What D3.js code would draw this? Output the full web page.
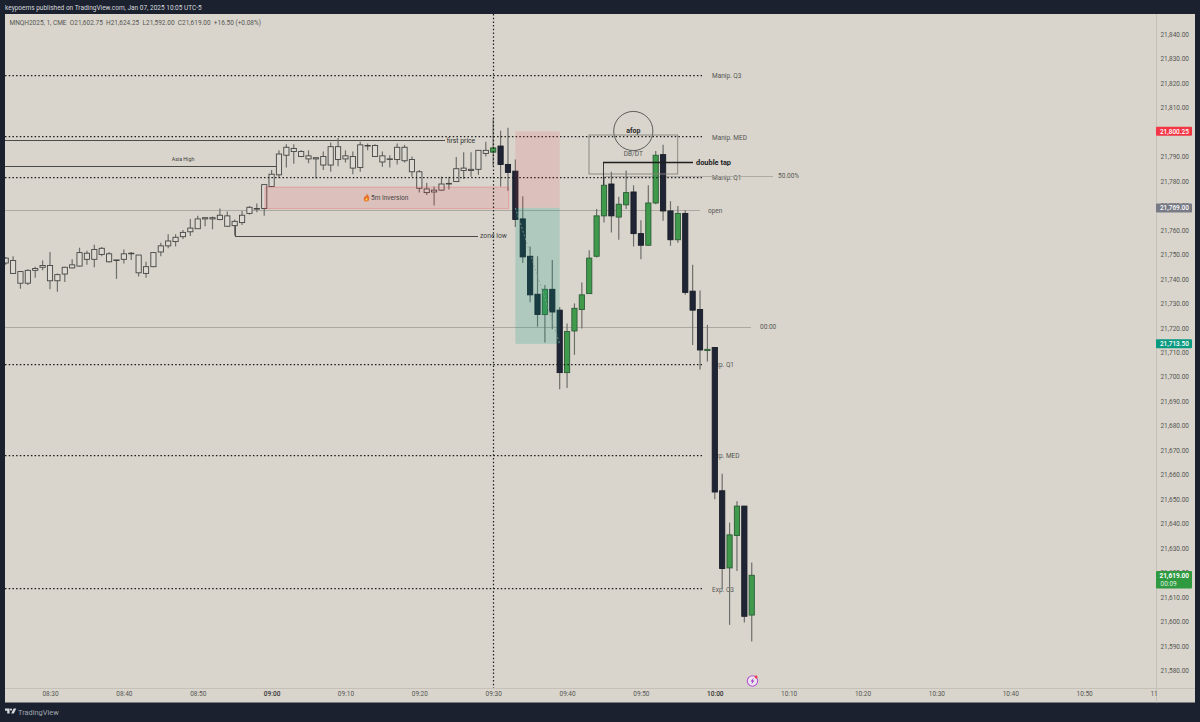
<!DOCTYPE html>
<html><head><meta charset="utf-8">
<script src="https://cdn.jsdelivr.net/npm/d3@7/dist/d3.min.js"></script>
<style>html,body{margin:0;padding:0;background:#1a202c}svg{display:block}text{font-family:Roboto,"Noto Sans",sans-serif}</style>
</head><body><div id="chart"></div>
<script>
const startMinute = 504; // 08:24
const highs = [21749,21749.25,21743.25,21744,21745,21747.5,21751,21742.25,21745,21748,21752.75,21751.5,21754,21753,21751,21747.75,21752,21751,21749.75,21747,21750.75,21754.75,21758.25,21758.25,21760,21764.5,21765.75,21765,21765.5,21768.75,21767.5,21764.25,21767.75,21769.75,21770.75,21778.5,21784.5,21792.5,21795,21795,21792.5,21792.5,21789.5,21792,21795.75,21797.5,21792.5,21792,21796,21795.25,21795,21792,21790.5,21795.25,21794.75,21790,21784.5,21779.25,21777.75,21781.75,21781.75,21789.75,21791.75,21791.75,21792.5,21796,21805.5,21800.5,21801.75,21788.75,21773.75,21753.25,21749.25,21737.5,21747.75,21728.5,21721.75,21730,21738.5,21751.75,21768.5,21781.5,21783.75,21773.5,21784.25,21778.25,21764,21778.25,21792.25,21794.75,21771.75,21769.75,21768,21745.75,21735.25,21721.25,21712,21660.5,21640.5,21649.25,21647.25,21624.25];
const lows = [21745.75,21742,21736,21737.5,21740.5,21743.5,21735.75,21734.75,21738.75,21744.25,21745,21745.75,21744.75,21749.25,21746.75,21740,21746.25,21747.75,21741,21740.5,21744.75,21749.25,21752.5,21753.25,21756.25,21757.5,21760.5,21761.5,21760.25,21764,21761.25,21757.75,21762,21766.25,21767.25,21765.75,21777.5,21781.25,21785.5,21787,21789.75,21787.25,21781,21784.5,21783.75,21786,21787.5,21782.75,21783.75,21792.5,21789.75,21785.75,21785.5,21786.75,21787.5,21781.75,21775.25,21774.25,21770,21776,21776.5,21779.75,21780.75,21781.75,21782.5,21790,21786,21777.75,21776,21761.25,21746.5,21730.5,21720.5,21714,21719.5,21695,21695.5,21709,21719.75,21734,21748.75,21763,21759,21756,21768.5,21753.25,21748,21753.5,21770.5,21763.75,21753.5,21754.75,21733.5,21713,21703,21706.25,21650,21613.25,21598.75,21620.75,21599.75,21592];
const opens = [21746.5,21742.25,21738.25,21738.25,21743.5,21744.75,21739.25,21739.25,21742,21744.5,21745.25,21748,21748,21750,21747,21747.5,21748,21750.25,21742.5,21742.25,21745,21751,21753.5,21755.25,21757.25,21759.25,21760.5,21764.5,21764.5,21764.25,21761.5,21761.75,21763,21766.75,21768.5,21768.75,21777.75,21782.5,21790.5,21792,21790,21789,21789,21786.5,21786.5,21788.75,21789,21785.25,21785.5,21794.25,21790,21787.75,21788.75,21788.75,21788.25,21783.75,21777,21775.25,21775.5,21776.25,21778.75,21779.75,21784.25,21784.25,21784.75,21791.25,21791.75,21794.25,21786.75,21784,21764.5,21749.25,21733.75,21725.5,21735.75,21727.25,21701.75,21718.75,21727.5,21734,21749.25,21765.75,21778.75,21765.25,21770.25,21775.5,21758.5,21753.75,21771,21790.75,21767.75,21756,21766.75,21735,21727.5,21710.75,21712,21653.5,21622,21635.25,21647.25,21602.75];
const closes = [21748.5,21747.5,21743,21743.5,21744.25,21745.5,21745.5,21741.75,21744.75,21745.75,21750.75,21750.5,21752,21752.5,21750.25,21747.75,21750.25,21750.5,21749.75,21745,21750.75,21753.5,21755.5,21757,21759,21760.75,21764.5,21765,21765,21766,21765.75,21763.5,21766,21769.25,21768.75,21778.5,21782.75,21791,21793.75,21793.25,21792,21790.25,21789.5,21790,21794,21794,21790.25,21790,21794.75,21794.5,21794.5,21790.25,21789,21793.75,21793.75,21788.75,21783.75,21776.75,21776.25,21778.75,21779,21785,21785.25,21784.75,21792.5,21792.5,21793.5,21786.75,21783.5,21764.25,21749,21733.5,21725.5,21735.75,21726.5,21701.75,21718.5,21728,21733.5,21748.5,21765.75,21778.25,21765.75,21770.5,21775.25,21758.5,21753.75,21771,21790.5,21767.75,21756,21766.75,21734.5,21727.25,21711,21711.25,21653,21621.75,21635.5,21647.25,21602.25,21619];
const priceTicks = [21840,21830,21820,21810,21800,21790,21780,21770,21760,21750,21740,21730,21720,21710,21700,21690,21680,21670,21660,21650,21640,21630,21620,21610,21600,21590,21580];
const timeTicks = ["08:30","08:40","08:50","09:00","09:10","09:20","09:30","09:40","09:50","10:00","10:10","10:20","10:30","10:40","10:50","11:00"];
const boldTimes = ["09:00","10:00"];
const dottedLevels = [21823.25,21798,21781.4,21705,21668,21613.5];
const levelLabels = ["Manip. Q3","Manip. MED","Manip. Q1","Exp. Q1","Exp. MED","Exp. Q3"];
const priceTags = [
  {p:21800.25,t:"21,800.25",c:"#f23645"},
  {p:21769,t:"21,769.00",c:"#787b86"},
  {p:21713.5,t:"21,713.50",c:"#089981"}
];

const W=1200,H=722,L=5,R=1195,T=14,B=702.5,axisX=1156,axisY=688;
const BG="#d9d5cd",FRAME="#1b212e",DARK="#1f2534",GREEN="#3f9a4b",WICK="#6e6e6a",TXT="#565652";
const mm=s=>{const [h,m]=s.split(":").map(Number);return h*60+m};
const x=d3.scaleLinear().domain([510,660]).range([50,1158]);
const y=d3.scaleLinear().domain([21840,21580]).range([34,670.8]);
const snap=p=>Math.round(y(p)-.5)+.5;

const svg=d3.select("#chart").append("svg").attr("width",W).attr("height",H);
svg.append("rect").attr("width",W).attr("height",H).attr("fill",FRAME);
svg.append("rect").attr("x",L).attr("y",T).attr("width",R-L).attr("height",B-T).attr("fill",BG);
const defs=svg.append("defs");
defs.append("clipPath").attr("id","plot").append("rect").attr("x",L).attr("y",T).attr("width",axisX-L).attr("height",axisY-T);
defs.append("clipPath").attr("id","taxis").append("rect").attr("x",L).attr("y",axisY).attr("width",axisX-L+1).attr("height",B-axisY);
svg.append("line").attr("x1",L).attr("x2",R).attr("y1",axisY+.5).attr("y2",axisY+.5).attr("stroke","#c5c1b9");
svg.append("line").attr("x1",axisX+.5).attr("x2",axisX+.5).attr("y1",T).attr("y2",B).attr("stroke","#c5c1b9");

const plot=svg.append("g").attr("clip-path","url(#plot)");
function line(g,x1,x2,y1,y2,c,w,dash){const l=g.append("line").attr("x1",x1).attr("x2",x2).attr("y1",y1).attr("y2",y2).attr("stroke",c).attr("stroke-width",w);if(dash)l.attr("stroke-dasharray",dash);return l}
function label(g,tx,ty,s,o={}){return g.append("text").attr("x",tx).attr("y",ty).attr("dy","0.35em").attr("text-anchor",o.a||"start").attr("font-size",o.s||6.5).attr("font-weight",o.w||400).attr("fill",o.c||TXT).text(s)}

// labels and thin levels under the candles
const under=plot.append("g");
dottedLevels.forEach((p,i)=>label(under,712,y(p)+.5,levelLabels[i]));
line(under,L,445,snap(21796.5),snap(21796.5),"#4a4a48",1);
label(under,461,y(21796.6),"first price",{a:"middle",c:"#2e2e2c",s:6.8});
line(under,L,279,snap(21785.7),snap(21785.7),"#4a4a48",1);
label(under,183,159,"Asia High",{a:"middle",c:"#3f3f3c",s:5.3});
line(under,235,478,snap(21757.5),snap(21757.5),"#4a4a48",1);
line(under,235.5,235.5,y(21763),y(21757.5),"#4a4a48",1);
label(under,480,y(21757.5),"zone low",{c:"#444",s:6.8});
line(under,L,700,snap(21767.75),snap(21767.75),"#a5a39c",.9);
label(under,708,211,"open");
line(under,L,751,snap(21720.35),snap(21720.35),"#a5a39c",.9);
label(under,760,326.5,"00:00");
line(under,603,773,snap(21782),snap(21782),"#a8a69f",.9);
label(under,778,176,"50.00%");

// candles
const candles=highs.map((h,i)=>({t:startMinute+i,h,l:lows[i],o:opens[i],c:closes[i],hollow:i<66}));
const cg=plot.append("g");
cg.selectAll("line.w").data(candles).join("line").attr("class","w")
  .attr("x1",d=>x(d.t)).attr("x2",d=>x(d.t)).attr("y1",d=>y(d.h)).attr("y2",d=>y(d.l))
  .attr("stroke",WICK).attr("stroke-width",1.2);
cg.selectAll("rect.b").data(candles).join("rect").attr("class","b")
  .attr("x",d=>x(d.t)-2.6).attr("width",5.2)
  .attr("y",d=>y(Math.max(d.o,d.c))).attr("height",d=>Math.max(.6,Math.abs(y(d.o)-y(d.c))))
  .attr("fill",d=>d.hollow?"#dcd9d2":(d.c>=d.o?GREEN:DARK))
  .attr("stroke",d=>d.hollow?"#454543":(d.c>=d.o?"#2c5c36":"#171b26")).attr("stroke-width",.9);

// drawings above the candles
const over=plot.append("g");
dottedLevels.forEach(p=>line(over,L,702,snap(p),snap(p),"#1c1c1c",1.25,"1.5 2.2"));
const zone=[21777.5,21768.7];
over.append("rect").attr("x",x(539.1)).attr("width",x(572.1)-x(539.1)).attr("y",y(zone[0])).attr("height",y(zone[1])-y(zone[0]))
  .attr("fill","rgba(242,54,69,.13)").attr("stroke","rgba(242,54,69,.28)").attr("stroke-width",1);
const fx=366.5,fy=197.5;
over.append("path").attr("transform",`translate(${fx},${fy})`).attr("d","M0,-4 C2.4,-2 3,0 2.8,1.6 C2.5,3.4 1.2,4 0,4 C-1.4,4 -2.8,3.2 -2.8,1.4 C-2.8,0 -1.8,-.8 -1.4,-1.8 C-.9,-1 -.6,-1 -.4,-1.2 C0,-2 .1,-3 0,-4Z").attr("fill","#e8702a");
over.append("path").attr("transform",`translate(${fx},${fy})`).attr("d","M0,0 C1,1 1.3,1.8 1.1,2.5 C.8,3.5 -.8,3.5 -1.1,2.5 C-1.3,1.6 -.4,1 0,0Z").attr("fill","#f6c544");
label(over,371,197.5,"5m Inversion",{c:"#444"});
// position tool
const bx0=x(573),bx1=x(579);
over.append("rect").attr("x",bx0).attr("width",bx1-bx0).attr("y",y(21800.25)).attr("height",y(21769)-y(21800.25)).attr("fill","rgba(242,54,69,.13)");
over.append("rect").attr("x",bx0).attr("width",bx1-bx0).attr("y",y(21769)).attr("height",y(21713.5)-y(21769)).attr("fill","rgba(8,153,129,.2)");
line(over,bx0,bx1,y(21769),y(21713.5),"#8f9a95",.8,"2 2");
// afop
over.append("circle").attr("cx",633.3).attr("cy",131).attr("r",19.6).attr("fill","none").attr("stroke","#3e3e3c").attr("stroke-width",.8);
label(over,633.3,131,"afop",{a:"middle",w:700,c:"#2a2a2a",s:7});
over.append("rect").attr("x",589).attr("y",135).attr("width",88.7).attr("height",39).attr("fill","none").attr("stroke","#85837c").attr("stroke-width",.9);
label(over,633.3,154,"DB/DT",{a:"middle"});
line(over,603.5,603.5,162.5,185,"#3a3a38",1);
line(over,603,693,162.5,162.5,"#1f1f1f",1.5);
label(over,696,162.5,"double tap",{w:700,c:"#222",s:7.4});

// crosshair
line(plot,493.5,493.5,T,axisY,"#1c1c1c",1.2,"1.5 2.2");

// axes built by d3
const ya=d3.axisRight(y).tickValues(priceTicks).tickFormat(d3.format(",.2f")).tickSize(0).tickPadding(0);
const yg=svg.append("g").attr("transform",`translate(1189,0)`).call(ya);
yg.select(".domain").remove();
yg.selectAll("text").attr("text-anchor","end").attr("x",0).attr("font-size",6.5).attr("fill",TXT).style("font-family","Roboto");
const xa=d3.axisBottom(x).tickValues(timeTicks.map(mm)).tickFormat(m=>timeTicks[timeTicks.map(mm).indexOf(m)]).tickSize(0).tickPadding(0);
const xg=svg.append("g").attr("clip-path","url(#taxis)").append("g").attr("transform",`translate(0,${axisY+3.5})`).call(xa);
xg.select(".domain").remove();
xg.selectAll("text").attr("font-size",6.5).attr("fill",d=>boldTimes.map(mm).includes(d)?"#333":TXT).attr("font-weight",d=>boldTimes.map(mm).includes(d)?500:400).style("font-family","Roboto");

// price tags
priceTags.forEach(t=>{
  svg.append("rect").attr("x",axisX).attr("y",y(t.p)-4.5).attr("width",36).attr("height",9).attr("rx",1).attr("fill",t.c);
  label(svg,1189,y(t.p),t.t,{a:"end",c:"#fff",w:500});
});
svg.append("rect").attr("x",axisX).attr("y",571).attr("width",36).attr("height",17.5).attr("rx",1).attr("fill","#2f9a3f");
label(svg,1189,575.5,"21,619.00",{a:"end",c:"#fff",w:700});
label(svg,1160.5,583.5,"00:09",{c:"#dff0e0"});

// headers
label(svg,5,8,"keypoems published on TradingView.com, Jan 07, 2025 10:05 UTC-5",{c:"#d6d9de",s:6.5});
label(svg,9.5,22.5,"MNQH2025, 1, CME\u00a0\u00a0O21,602.75\u00a0\u00a0H21,624.25\u00a0\u00a0L21,592.00\u00a0\u00a0C21,619.00\u00a0\u00a0+16.50 (+0.08%)",{c:TXT,s:6.5});

// lightning icon
const ic=svg.append("g").attr("transform",`translate(${x(605.1)},681)`);
ic.append("circle").attr("r",5.2).attr("fill","#ece6ef").attr("stroke","#b455d3").attr("stroke-width",1.1);
ic.append("path").attr("d","M1.2,-3.2 L-2,0.6 L-.2,.6 L-1,3.2 L2,-.6 L.2,-.6Z").attr("fill","#a03cc4");
ic.append("circle").attr("cx",3.6).attr("cy",-4).attr("r",1.4).attr("fill","#f23645");

// footer logo
const lg=svg.append("g").attr("transform","translate(5,708.5)").attr("fill","#d6d9de");
lg.append("path").attr("d","M0,0H4.6V5H2.2V2.2H0Z");
lg.append("circle").attr("cx",6).attr("cy",1.1).attr("r",1.1);
lg.append("path").attr("d","M8.6,0H11.3L8.8,5H6.2Z");
label(svg,18,712.5,"TradingView",{c:"#a2a7b2",s:7.4});
</script></body></html>
